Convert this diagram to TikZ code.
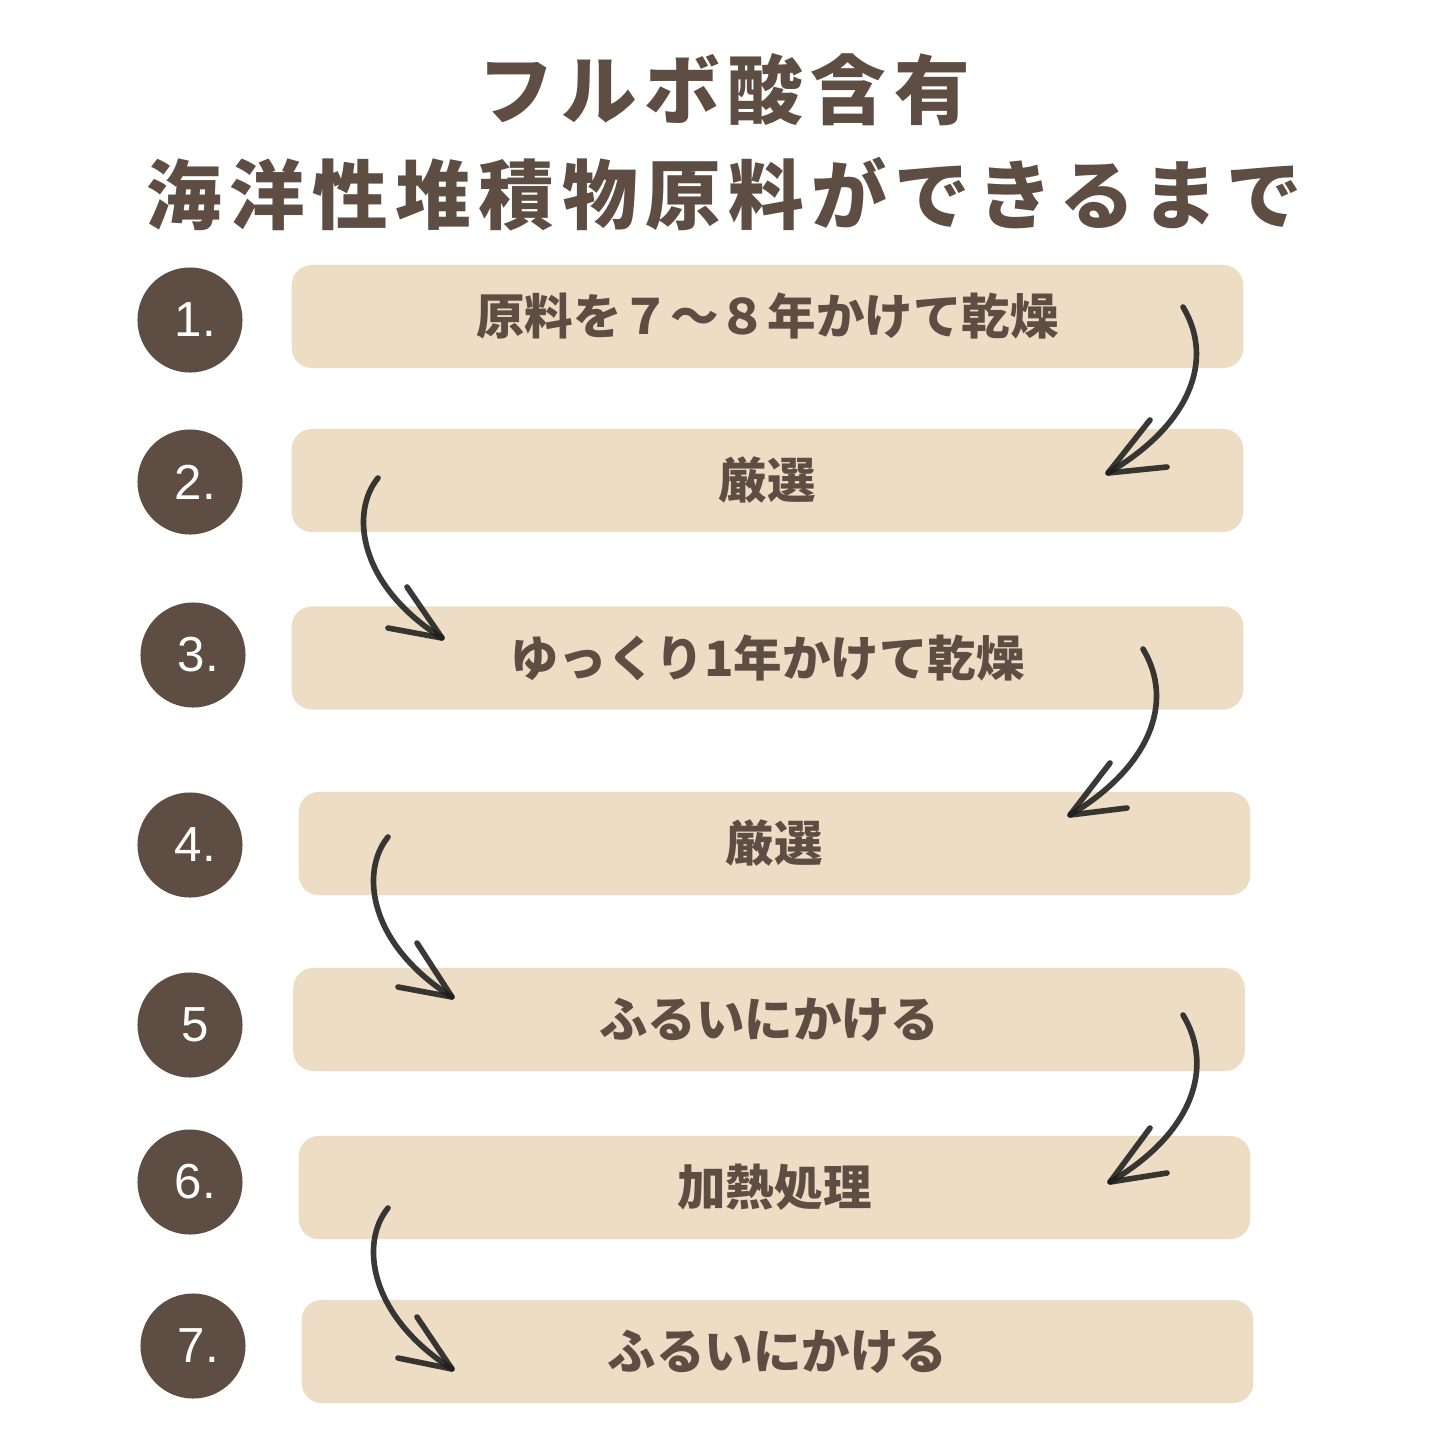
\documentclass[tikz,border=0pt]{standalone}
\usepackage{fontspec}
\setmainfont{Liberation Sans}
\newfontfamily\jpfont{Noto Sans CJK JP}
\newfontfamily\jptitle{Noto Sans CJK JP}[LetterSpace=10]
\definecolor{bark}{HTML}{5E4D42}
\definecolor{sand}{HTML}{EDDDC5}
\definecolor{lead}{HTML}{1E1E1E}
\tikzset{
  heading/.style={text=bark, inner sep=0pt, font=\jptitle\bfseries\fontsize{21.5}{26}\selectfont},
  numdot/.style={circle, fill=bark, text=white, minimum size=1.05cm, inner sep=0pt, font=\fontsize{14}{16}\selectfont, execute at begin node=\hspace{3pt}},
  stepbox/.style={fill=sand, rounded corners=0.2cm, minimum width=9.51cm, minimum height=1.03cm, inner sep=0pt, text=bark, font=\jpfont\bfseries\fontsize{13.8}{16}\selectfont},
  pencil/.style={draw=lead, draw opacity=0.88, line width=1.6pt, line cap=round, line join=round},
}

\begin{document}
\begin{tikzpicture}[x=0.01cm, y=-0.01cm]
    \fill[white] (0,0) rectangle (1445,1445);
    \useasboundingbox (0,0) rectangle (1445,1445);

    \node[heading] (T1) at (724,90) {フルボ酸含有};
    \node[heading] (T2) at (724,194) {海洋性堆積物原料ができるまで};

    \node[numdot] (N1) at (190,320) {1.};
    \node[numdot] (N2) at (190,482) {2.};
    \node[numdot] (N3) at (193,655) {3.};
    \node[numdot] (N4) at (190,845) {4.};
    \node[numdot] (N5) at (190,1025) {5};
    \node[numdot] (N6) at (190,1182) {6.};
    \node[numdot] (N7) at (193,1346) {7.};

    \node[stepbox] (S1) at (767.5,316.5) {原料を７～８年かけて乾燥};
    \node[stepbox] (S2) at (767.5,480.5) {厳選};
    \node[stepbox] (S3) at (767.5,658) {ゆっくり1年かけて乾燥};
    \node[stepbox] (S4) at (774.5,843.5) {厳選};
    \node[stepbox] (S5) at (769,1019.5) {ふるいにかける};
    \node[stepbox] (S6) at (774.5,1187.5) {加熱処理};
    \node[stepbox] (S7) at (777.5,1351.5) {ふるいにかける};

    \coordinate (a1) at (1183,307);  \coordinate (b1) at (1108,473);
    \coordinate (a2) at (378,478);   \coordinate (b2) at (442,638);
    \coordinate (a3) at (1143,649);  \coordinate (b3) at (1070,815);
    \coordinate (a4) at (388,837);   \coordinate (b4) at (452,997);
    \coordinate (a5) at (1183,1015); \coordinate (b5) at (1110,1182);
    \coordinate (a6) at (388,1208);  \coordinate (b6) at (452,1369);

    \draw[pencil] (a1) .. controls (1215,360) and (1190,425) .. (b1);
    \draw[pencil] (1150,420) -- (b1) -- (1167,467);
    \draw[pencil] (a2) .. controls (350,512) and (358,585) .. (b2);
    \draw[pencil] (407,587) -- (b2) -- (388,628);
    \draw[pencil] (a3) .. controls (1175,702) and (1150,767) .. (b3);
    \draw[pencil] (1110,763) -- (b3) -- (1127,808);
    \draw[pencil] (a4) .. controls (360,871) and (368,944) .. (b4);
    \draw[pencil] (417,943) -- (b4) -- (398,987);
    \draw[pencil] (a5) .. controls (1215,1068) and (1192,1134) .. (b5);
    \draw[pencil] (1150,1128) -- (b5) -- (1167,1173);
    \draw[pencil] (a6) .. controls (360,1242) and (368,1315) .. (b6);
    \draw[pencil] (417,1317) -- (b6) -- (398,1358);
\end{tikzpicture}
\end{document}
